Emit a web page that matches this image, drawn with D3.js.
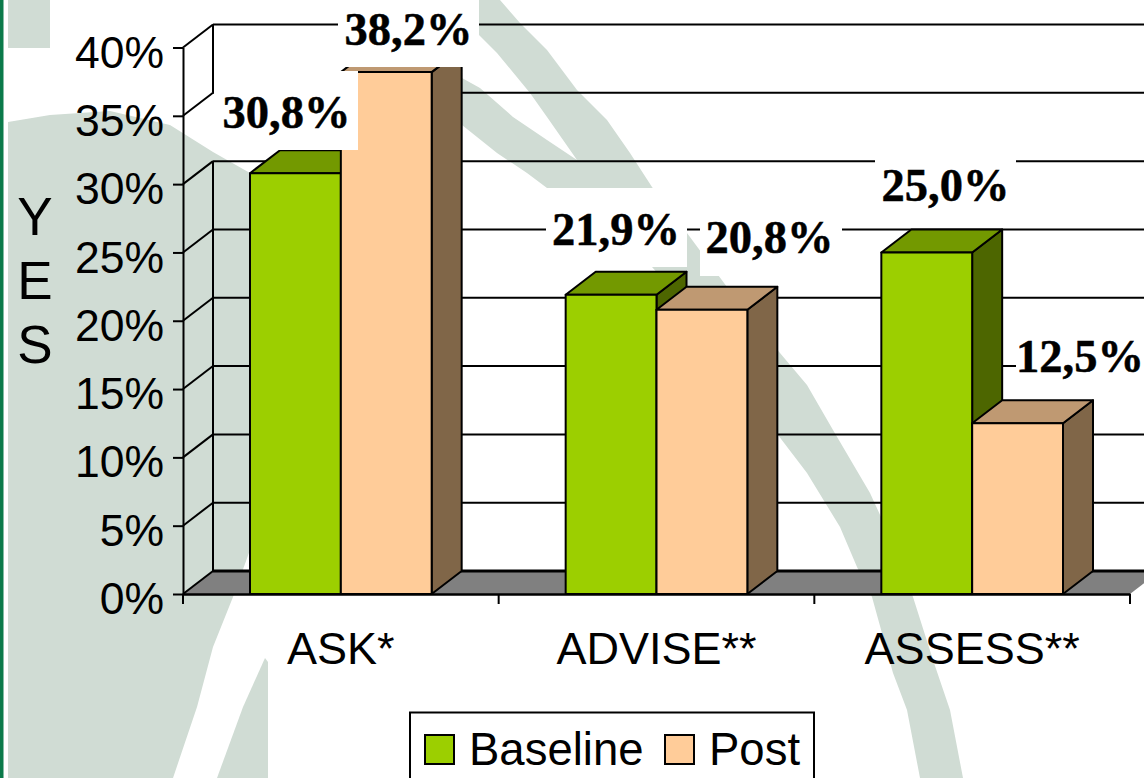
<!DOCTYPE html>
<html>
<head>
<meta charset="utf-8">
<script src="https://cdnjs.cloudflare.com/ajax/libs/d3/7.8.5/d3.min.js"></script>
<style>
  html, body { margin: 0; padding: 0; background: #fff; overflow: hidden; }
  svg { display: block; }
</style>
</head>
<body>
<div id="chart"></div>
<script>
// data
const categories = ["ASK*", "ADVISE**", "ASSESS**"];
const seriesNames = ["Baseline", "Post"];
const baselineValues = [30.8, 21.9, 25.0];
const postValues = [38.2, 20.8, 12.5];
const baselineLabels = ["30,8%", "21,9%", "25,0%"];
const postLabels = ["38,2%", "20,8%", "12,5%"];
const yTicks = [0, 5, 10, 15, 20, 25, 30, 35, 40];

// colours for each series: front, top, side
const colors = {
  Baseline: { front: "#9ccf00", top: "#739900", side: "#4d6600" },
  Post: { front: "#ffcc99", top: "#bf9972", side: "#806648" },
};

// hand placed data labels, the white box hides what is behind it
const baselineBoxes = [
  { x: 214, y: 71, w: 144, h: 79, tx: 286.5, ty: 128 },
  { x: 546, y: 188, w: 141, h: 79, tx: 616, ty: 245 },
  { x: 875, y: 149, w: 141, h: 79, tx: 945.5, ty: 201 },
];
const postBoxes = [
  { x: 338, y: 0, w: 141, h: 67, tx: 408.5, ty: 45 },
  { x: 700, y: 196, w: 142, h: 80, tx: 769.5, ty: 253 },
  { x: 1016, y: 318, w: 128, h: 80, tx: 1080, ty: 372 },
];

// logo shapes in the slide background
const logoShapes = [
  [[8, 0], [50, 0], [50, 48], [8, 48]],
  [[8, 122], [50, 115], [110, 111], [170, 125], [213, 152], [250, 173], [300, 200], [300, 500],
   [250, 550], [233, 597], [213, 647], [197, 707], [173, 778], [8, 778]],
  [[265, 658], [268, 662], [268, 778], [217, 778], [243, 707]],
  [[479, 0], [500, 0], [520, 23], [547, 50], [577, 90], [607, 120], [630, 153], [652, 187],
   [687, 233], [727, 287], [780, 353], [807, 385], [833, 430], [870, 493], [881, 517],
   [913, 597], [933, 660], [950, 710], [963, 778], [920, 778], [907, 710], [893, 673], [872, 597],
   [857, 567], [840, 527], [807, 473], [778, 435], [700, 320], [652, 267], [547, 188], [527, 173],
   [497, 153], [462, 125], [431, 100], [431, 60], [462, 78], [480, 88], [513, 117], [547, 140],
   [577, 160], [547, 117], [530, 93], [497, 53], [479, 35]],
];

const width = 1144, height = 778;
const depthX = 30, depthY = 23;
const sans = "'Liberation Sans', Arial, sans-serif";

const svg = d3.select("#chart").append("svg")
  .attr("width", width)
  .attr("height", height);

// background
svg.append("rect").attr("width", width).attr("height", height).attr("fill", "#fff");
svg.append("rect").attr("width", 3.5).attr("height", height).attr("fill", "#0b7a4a");
svg.selectAll(".logo")
  .data(logoShapes)
  .enter()
  .append("path")
  .attr("class", "logo")
  .attr("d", (d) => d3.line()(d) + "Z")
  .attr("fill", "#d0dcd4");

// scales
const y = d3.scaleLinear().domain([0, 40]).range([594, 47.5]);
const x = d3.scaleBand().domain(categories).range([183, 1130]);
const barGap = 67;
const xBar = d3.scaleBand().domain(seriesNames).range([barGap, x.bandwidth() - barGap]);

// floor
svg.append("path")
  .attr("d", d3.line()([
    [x.range()[0], y(0)],
    [x.range()[0] + depthX, y(0) - depthY],
    [x.range()[1] + depthX, y(0) - depthY],
    [x.range()[1], y(0)],
  ]) + "Z")
  .attr("fill", "#808080");

// back wall gridlines and the diagonals on the side wall
svg.selectAll(".grid")
  .data(yTicks)
  .enter()
  .append("line")
  .attr("class", "grid")
  .attr("x1", x.range()[0] + depthX)
  .attr("x2", x.range()[1] + depthX)
  .attr("y1", (d) => y(d) - depthY)
  .attr("y2", (d) => y(d) - depthY)
  .attr("stroke", "#000")
  .attr("stroke-width", (d) => (d === 0 ? 3 : 2));

svg.selectAll(".diag")
  .data(yTicks)
  .enter()
  .append("line")
  .attr("class", "diag")
  .attr("x1", x.range()[0])
  .attr("x2", x.range()[0] + depthX)
  .attr("y1", (d) => y(d))
  .attr("y2", (d) => y(d) - depthY)
  .attr("stroke", "#000")
  .attr("stroke-width", 2);

// the wall edge is broken where the 30,8% box sits
[[0, 30], [35, 40]].forEach((part) => {
  svg.append("line")
    .attr("x1", x.range()[0] + depthX)
    .attr("x2", x.range()[0] + depthX)
    .attr("y1", y(part[0]) - depthY)
    .attr("y2", y(part[1]) - depthY)
    .attr("stroke", "#000")
    .attr("stroke-width", 2);
});

// bars, category by category so the post box lands on the baseline box
categories.forEach((cat, i) => {
  [[baselineValues, "Baseline"], [postValues, "Post"]].forEach((s) => {
    const c = colors[s[1]];
    const bw = xBar.bandwidth();
    const x0 = x(cat) + xBar(s[1]), top = y(s[0][i]), bottom = y(0);
    const box = svg.append("g")
      .attr("stroke", "#000")
      .attr("stroke-width", 2)
      .attr("stroke-linejoin", "round");
    box.append("path")
      .attr("d", d3.line()([
        [x0 + bw, top], [x0 + bw + depthX, top - depthY],
        [x0 + bw + depthX, bottom - depthY], [x0 + bw, bottom],
      ]) + "Z")
      .attr("fill", c.side);
    box.append("path")
      .attr("d", d3.line()([
        [x0, top], [x0 + depthX, top - depthY],
        [x0 + bw + depthX, top - depthY], [x0 + bw, top],
      ]) + "Z")
      .attr("fill", c.top);
    box.append("rect")
      .attr("x", x0)
      .attr("y", top)
      .attr("width", bw)
      .attr("height", bottom - top)
      .attr("fill", c.front);
  });
});

// Y axis
const yAxis = svg.append("g")
  .attr("transform", `translate(${x.range()[0]},0)`)
  .call(d3.axisLeft(y).tickValues(yTicks).tickFormat((d) => d + "%").tickSize(10).tickSizeOuter(0).tickPadding(9));
yAxis.selectAll("line,path").attr("stroke", "#000").attr("stroke-width", 2);
yAxis.selectAll("text")
  .attr("dy", "0.44em")
  .attr("fill", "#000")
  .style("font-family", sans)
  .style("font-size", "44.5px");

// X axis, ticks sit between the categories
const xAxis = svg.append("g")
  .attr("transform", `translate(0,${y(0)})`)
  .call(d3.axisBottom(x).tickSize(0).tickSizeOuter(0).tickPadding(38));
xAxis.selectAll("path").attr("stroke", "#000").attr("stroke-width", 2.5);
xAxis.selectAll("text")
  .attr("fill", "#000")
  .style("font-family", sans)
  .style("font-size", "45px");
xAxis.selectAll(".edge")
  .data(categories.map((c) => x(c)).concat(x.range()[1]))
  .enter()
  .append("line")
  .attr("class", "edge")
  .attr("x1", (d) => d)
  .attr("x2", (d) => d)
  .attr("y1", 0)
  .attr("y2", 10)
  .attr("stroke", "#000")
  .attr("stroke-width", 2);

// stacked axis title
svg.selectAll(".yes")
  .data(["Y", "E", "S"])
  .enter()
  .append("text")
  .attr("class", "yes")
  .attr("x", 35)
  .attr("y", (d, i) => 235 + i * 64)
  .attr("text-anchor", "middle")
  .style("font-family", sans)
  .style("font-size", "53px")
  .text((d) => d);

// data labels
function drawLabels(boxes, labels) {
  const g = svg.append("g");
  g.selectAll("rect")
    .data(boxes)
    .enter()
    .append("rect")
    .attr("x", (d) => d.x)
    .attr("y", (d) => d.y)
    .attr("width", (d) => d.w)
    .attr("height", (d) => d.h)
    .attr("fill", "#fff");
  g.selectAll("text")
    .data(boxes)
    .enter()
    .append("text")
    .attr("x", (d) => d.tx)
    .attr("y", (d) => d.ty)
    .attr("text-anchor", "middle")
    .attr("stroke", "#000")
    .attr("stroke-width", 0.5)
    .style("font-family", "'Liberation Serif', 'Times New Roman', serif")
    .style("font-weight", "bold")
    .style("font-size", "46.5px")
    .text((d, i) => labels[i]);
}
drawLabels(baselineBoxes, baselineLabels);
drawLabels(postBoxes, postLabels);

// legend
const legend = svg.append("g");
legend.append("rect")
  .attr("x", 410)
  .attr("y", 712.5)
  .attr("width", 404)
  .attr("height", 80)
  .attr("fill", "#fff")
  .attr("stroke", "#000")
  .attr("stroke-width", 2);
const legendX = d3.scaleOrdinal().domain(seriesNames).range([425, 665]);
legend.selectAll(".swatch")
  .data(seriesNames)
  .enter()
  .append("rect")
  .attr("class", "swatch")
  .attr("x", (d) => legendX(d))
  .attr("y", 735)
  .attr("width", 29)
  .attr("height", 29)
  .attr("fill", (d) => colors[d].front)
  .attr("stroke", "#000")
  .attr("stroke-width", 2);
legend.selectAll(".name")
  .data(seriesNames)
  .enter()
  .append("text")
  .attr("class", "name")
  .attr("x", (d) => legendX(d) + 44)
  .attr("y", 765)
  .style("font-family", sans)
  .style("font-size", "45.5px")
  .text((d) => d);
</script>
</body>
</html>
